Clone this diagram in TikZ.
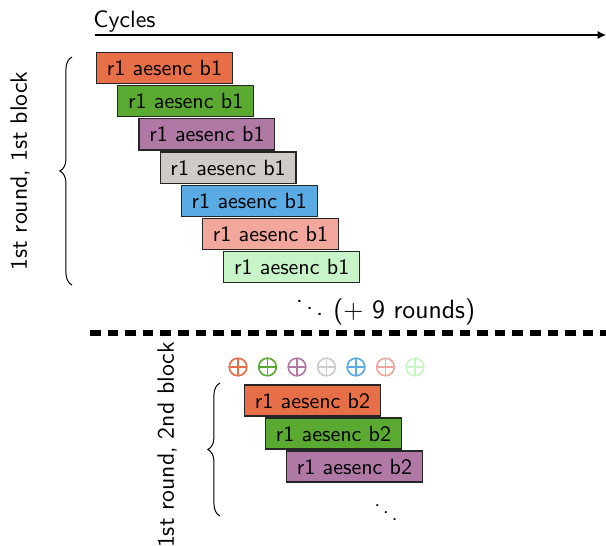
\documentclass[tikz,border=0pt]{standalone}
\usetikzlibrary{decorations.pathreplacing,arrows.meta}

% stage colours of the pipelined AES rounds
\definecolor{stA}{RGB}{231,111,71}
\definecolor{stB}{RGB}{90,170,50}
\definecolor{stC}{RGB}{175,120,165}
\definecolor{stD}{RGB}{208,203,198}
\definecolor{stE}{RGB}{90,170,228}
\definecolor{stF}{RGB}{242,167,157}
\definecolor{stG}{RGB}{200,245,200}

\begin{document}
\begin{tikzpicture}[x=0.4545pt,y=-0.4545pt,font=\sffamily,
  opbox/.style={draw=black!85,line width=0.55pt,inner sep=0pt,
    minimum width=61.8pt,minimum height=14.1pt},
  sidelabel/.style={font=\sffamily\fontsize{10.8}{13}\selectfont},
  xorsym/.style={circle,draw=#1,line width=0.75pt,inner sep=0pt,minimum size=8pt,
    path picture={\draw[#1,line width=0.75pt]
      (path picture bounding box.north) -- (path picture bounding box.south)
      (path picture bounding box.west) -- (path picture bounding box.east);}},
  curly/.style={decorate,decoration={brace,amplitude=5.5pt},line width=0.45pt}]

\useasboundingbox (0,0) rectangle (606,546);

% time axis
\node[sidelabel,anchor=base west,inner sep=0pt] (cycles) at (93,27) {Cycles};
\coordinate (axisL) at (95,35);
\coordinate (axisR) at (606,35);
\draw[line width=0.6pt,-{Latex[length=3.8pt,width=3.8pt]}] (axisL) -- (axisR);

% first block: one aesenc per cycle, seven in flight
\foreach \c [count=\i from 0] in {stA,stB,stC,stD,stE,stF,stG}{
  \node[opbox,fill=\c] (a\i) at (164.5+21.2*\i,68+33.2*\i) {r1 aesenc b1};
}
\coordinate (brA1) at (72,285);
\coordinate (brA2) at (72,57);
\draw[curly] (brA1) -- (brA2);
\node[sidelabel,rotate=90] (lblA) at (20,171) {1st round, 1st block};

\node[anchor=base west,inner sep=0pt,font=\sffamily\large] (more) at (294,318)
  {$\ddots$ ($+$ 9 rounds)};

% separator
\coordinate (sepL) at (90,333);
\coordinate (sepR) at (606,333);
\draw[line width=2.3pt,dash pattern=on 4.8pt off 3.2pt] (sepL) -- (sepR);

% xor markers
\foreach \c [count=\i from 0] in {stA,stB,stC,stD,stE,stF,stG}{
  \node[xorsym=\c] (x\i) at (238+29.5*\i,367) {};
}

% second block
\foreach \c [count=\i from 0] in {stA,stB,stC}{
  \node[opbox,fill=\c] (b\i) at (312.5+21*\i,400.5+33*\i) {r1 aesenc b2};
}
\node[inner sep=0pt] (moreB) at (386,506) {$\ddots$};
\coordinate (brB1) at (220,516);
\coordinate (brB2) at (220,383);
\draw[curly] (brB1) -- (brB2);
\node[sidelabel,rotate=90] (lblB) at (167,445) {1st round, 2nd block};

\end{tikzpicture}
\end{document}
